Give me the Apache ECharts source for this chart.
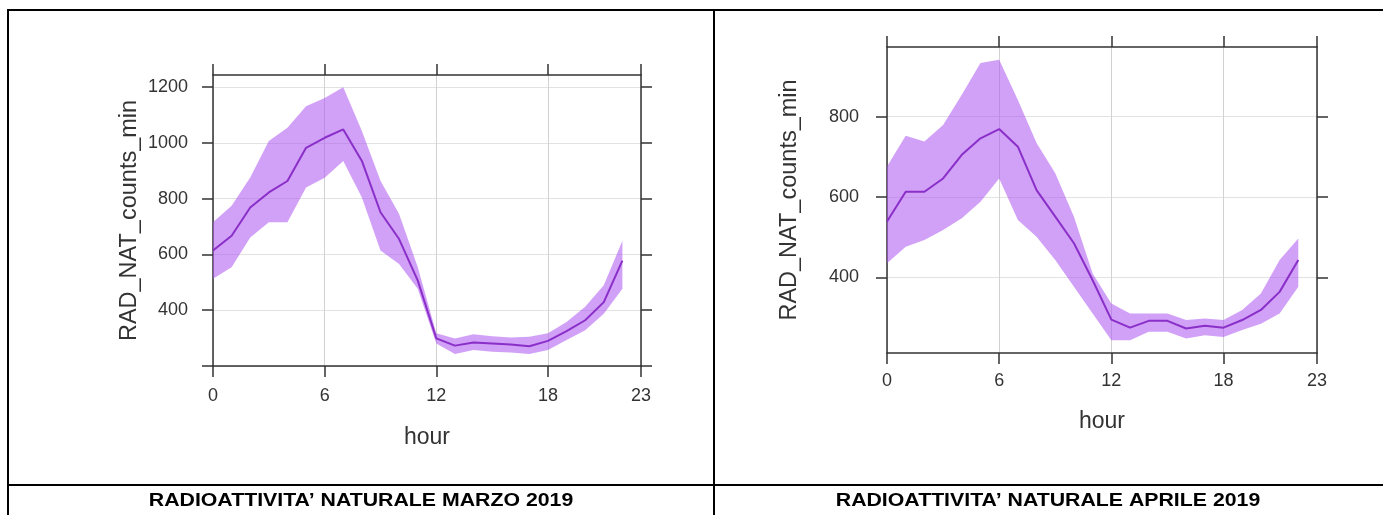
<!DOCTYPE html>
<html><head><meta charset="utf-8">
<script src="https://cdn.jsdelivr.net/npm/echarts@6/dist/echarts.min.js"></script>
<style>html,body{margin:0;padding:0;background:#fff}#c{width:1383px;height:515px}</style>
</head><body><div id="c"></div>
<script>
const hours = [0,1,2,3,4,5,6,7,8,9,10,11,12,13,14,15,16,17,18,19,20,21,22];
const marchMean  = [614,667,768,822,863,982,1018,1048,935,751,655,507,299,273,284,281,277,271,290,325,364,429,578];
const marchUpper = [715,774,876,1006,1054,1131,1161,1199,1042,864,745,555,317,299,314,307,302,305,317,358,412,489,649];
const marchLower = [513,554,661,715,715,840,875,935,804,614,566,477,281,243,257,251,248,243,257,293,328,387,477];
const aprilMean  = [539,613,613,646,705,746,769,725,617,551,485,393,295,275,292,292,273,280,275,294,319,364,443];
const aprilUpper = [676,752,738,779,854,933,941,841,734,659,551,410,335,310,310,310,294,298,294,319,360,443,497];
const aprilLower = [435,476,493,518,547,588,646,543,501,443,377,310,244,244,265,265,248,256,252,269,285,310,377];
const xTicks = [0,6,12,18,23];
const marchYTicks = [200,400,600,800,1000,1200];
const marchYLabels = [400,600,800,1000,1200];
const aprilYTicks = [400,600,800];
const titles = ['RADIOATTIVITA\u2019 NATURALE MARZO 2019','RADIOATTIVITA\u2019 NATURALE APRILE 2019'];
const xName = 'hour';
const yName = 'RAD_NAT_counts_min';

const FONT = 'Liberation Sans, Arial, sans-serif';
const AX = '#333';
const BAND = 'rgba(171,82,240,0.55)';
const LINE = '#8a2fc8';

const chart = echarts.init(document.getElementById('c'), null, {renderer:'canvas'});

const grids = [], xAxes = [], yAxes = [], series = [];
function panel(gi, g, ymin, ymax, yTicks, yLabels, mean, up, lo, yLabMargin, yNameGap, xLabMargin, xNameGap) {
  grids.push(Object.assign({containLabel:false, show:false}, g));
  const axLine = {show:true, onZero:false, lineStyle:{color:AX, width:1.5}};
  const tick = {show:true, inside:false, length:11, lineStyle:{color:AX, width:1.5}};
  const xb = xAxes.length;
  xAxes.push({type:'value', gridIndex:gi, position:'bottom', min:0, max:23,
    axisLine:axLine, axisTick:Object.assign({customValues:xTicks}, tick),
    axisLabel:{customValues:xTicks, fontSize:18, color:AX, fontFamily:FONT, margin:xLabMargin,
      formatter:v=>String(v)},
    splitLine:{show:true, lineStyle:{color:'#d2d2d2', width:1}},
    name:xName, nameLocation:'middle', nameGap:xNameGap,
    nameTextStyle:{fontSize:23, color:AX, fontFamily:FONT}});
  xAxes.push({type:'value', gridIndex:gi, position:'top', min:0, max:23,
    axisLine:axLine, axisTick:Object.assign({customValues:xTicks}, tick),
    axisLabel:{show:false}, splitLine:{show:false}});
  const yl = yAxes.length;
  yAxes.push({type:'value', gridIndex:gi, position:'left', min:ymin, max:ymax,
    axisLine:axLine, axisTick:Object.assign({customValues:yTicks}, tick),
    axisLabel:{customValues:yLabels, fontSize:18, color:AX, fontFamily:FONT, margin:yLabMargin,
      formatter:v=>String(v)},
    splitLine:{show:true, lineStyle:{color:'#e2e2e2', width:1}},
    name:yName, nameLocation:'middle', nameGap:yNameGap,
    nameTextStyle:{fontSize:23.5, color:AX, fontFamily:FONT}});
  yAxes.push({type:'value', gridIndex:gi, position:'right', min:ymin, max:ymax,
    axisLine:axLine, axisTick:Object.assign({customValues:yTicks}, tick),
    axisLabel:{show:false}, splitLine:{show:false}});
  series.push({type:'custom', xAxisIndex:xb, yAxisIndex:yl, silent:true, z:2, clip:true,
    data:hours.map((h,i)=>[h, up[i], lo[i]]),
    encode:{x:0, y:[1,2]},
    renderItem:function(params, api){
      if (params.dataIndex !== 0) return null;
      const pts = [];
      for (let i = 0; i < hours.length; i++) pts.push(api.coord([hours[i], up[i]]));
      for (let i = hours.length - 1; i >= 0; i--) pts.push(api.coord([hours[i], lo[i]]));
      return {type:'polygon', shape:{points:pts}, style:{fill:BAND, stroke:null}};
    }});
  series.push({type:'line', xAxisIndex:xb, yAxisIndex:yl, symbol:'none', silent:true, z:3,
    lineStyle:{color:LINE, width:2}, data:hours.map((h,i)=>[h, mean[i]])});
}
panel(0, {left:213, top:75, width:428, height:291}, 200, 1243, marchYTicks, marchYLabels,
      marchMean, marchUpper, marchLower, 25, 71, 21, 60);
panel(1, {left:887, top:47, width:430, height:306}, 212, 973, aprilYTicks, aprilYTicks,
      aprilMean, aprilUpper, aprilLower, 28, 85, 19, 57);

const border = {stroke:'#000', lineWidth:2};
const capFont = 'bold 19px Liberation Sans, Arial, sans-serif';
const graphic = [
  {type:'line', shape:{x1:7, y1:10, x2:1383, y2:10}, style:border},
  {type:'line', shape:{x1:8, y1:9, x2:8, y2:515}, style:border},
  {type:'line', shape:{x1:714, y1:9, x2:714, y2:515}, style:border},
  {type:'line', shape:{x1:7, y1:485, x2:1383, y2:485}, style:border},
  {type:'text', x:361, y:501, scaleX:1.12, style:{text:titles[0], fill:'#000', font:capFont, textAlign:'center', textVerticalAlign:'middle'}},
  {type:'text', x:1048, y:501, scaleX:1.12, style:{text:titles[1], fill:'#000', font:capFont, textAlign:'center', textVerticalAlign:'middle'}}
];

chart.setOption({animation:false, backgroundColor:'#fff', grid:grids, xAxis:xAxes, yAxis:yAxes, series:series, graphic:graphic});
</script></body></html>
